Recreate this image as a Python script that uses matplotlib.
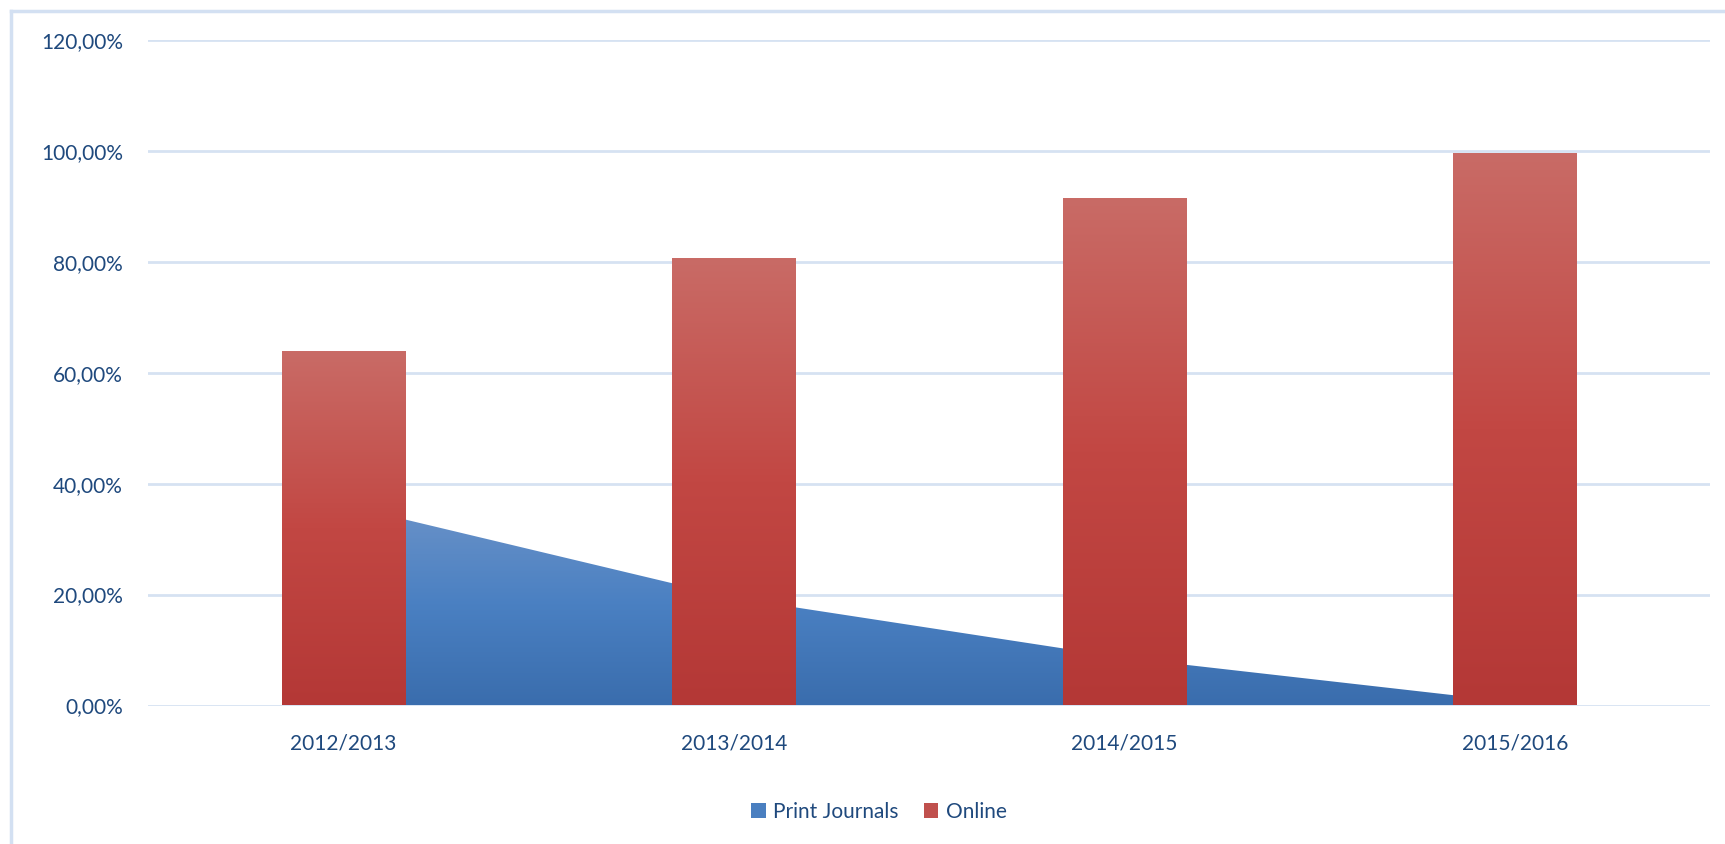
import numpy as np
import matplotlib
matplotlib.use("Agg")
import matplotlib.pyplot as plt
from matplotlib.colors import LinearSegmentedColormap
from matplotlib.lines import Line2D
from matplotlib.patches import Patch

# data (shares per academic year)
years = ["2012/2013", "2013/2014", "2014/2015", "2015/2016"]
print_journals = [36.2, 19.4, 8.6, 0.6]
online = [63.8, 80.6, 91.4, 99.4]
y_ticks = [0, 20, 40, 60, 80, 100, 120]
y_labels = ["0,00%", "20,00%", "40,00%", "60,00%", "80,00%", "100,00%", "120,00%"]
legend_labels = ["Print Journals", "Online"]

text_color = "#1F497D"
grid_color = "#D6E2F2"
frame_color = "#D3E0F2"

plt.rcParams['font.family'] = ['Lato', 'DejaVu Sans']

W, H = 1725, 844
fig = plt.figure(figsize=(W / 100, H / 100), dpi=100)
ax = fig.add_axes([148 / W, 138.5 / H, 1562 / W, 665.5 / H])
x = np.arange(len(years))

red_cmap = LinearSegmentedColormap.from_list("red", ["#B43836", "#C24743", "#C96B66"])
blue_cmap = LinearSegmentedColormap.from_list("blue", ["#3A6DAD", "#4A80C2", "#6A92C8"])
grad = np.linspace(0, 1, 256).reshape(-1, 1)

# print journals: area with vertical gradient
area = ax.fill_between(x, print_journals, color="none", linewidth=0, zorder=2)
im = ax.imshow(grad, cmap=blue_cmap, origin="lower", aspect="auto",
               extent=[x[0], x[-1], 0, max(print_journals)], zorder=2)
im.set_clip_path(area.get_paths()[0], transform=ax.transData)

# online: bars, each with its own gradient
bars = ax.bar(x, online, width=0.315, color="none", linewidth=0, zorder=3)
for b in bars:
    x0 = b.get_x()
    ax.imshow(grad, cmap=red_cmap, origin="lower", aspect="auto",
              extent=[x0, x0 + b.get_width(), 0, b.get_height()], zorder=3)

ax.set_xlim(-0.5, len(years) - 0.5)
ax.set_ylim(0, 120)
ax.set_xticks(x)
ax.set_xticklabels(years)
ax.set_yticks(y_ticks)
ax.set_yticklabels(y_labels)

ax.set_axisbelow(True)
ax.yaxis.grid(True, color=grid_color, linewidth=2)
for s in ax.spines.values():
    s.set_visible(False)
ax.tick_params(length=0, labelsize=15, colors=text_color)
ax.tick_params(axis="y", pad=18)
ax.tick_params(axis="x", pad=20)

handles = [Patch(facecolor="#4A7FC0"), Patch(facecolor="#C0504D")]
fig.legend(handles, legend_labels, loc="center", bbox_to_anchor=(879 / W, 1 - 811.7 / H),
           ncol=2, frameon=False, fontsize=15, handlelength=0.7, handleheight=0.7,
           handletextpad=0.35, columnspacing=1.2, labelcolor=text_color)

# outer chart frame (cropped on right and bottom)
fig.add_artist(Line2D([11 / W, 11 / W], [0, 1 - 11 / H], transform=fig.transFigure,
                      color=frame_color, linewidth=2.5))
fig.add_artist(Line2D([11 / W, 1], [1 - 11 / H, 1 - 11 / H], transform=fig.transFigure,
                      color=frame_color, linewidth=2.5))

fig.savefig("out.png", dpi=100)
